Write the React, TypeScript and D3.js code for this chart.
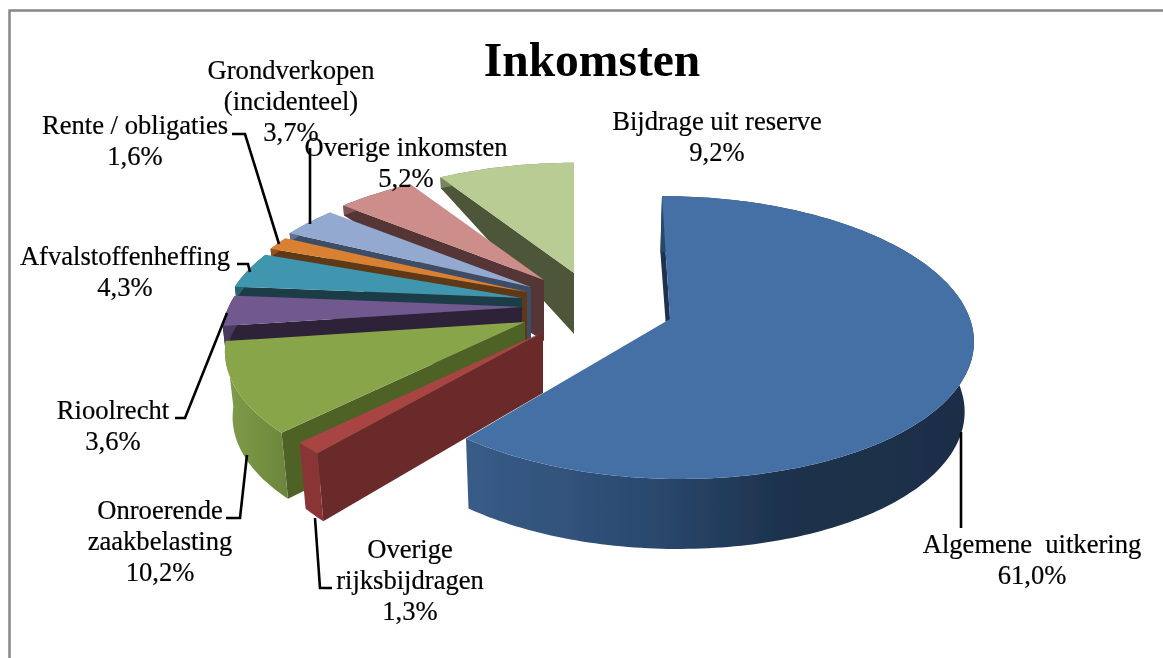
import React from "react";
import * as d3 from "d3";

// ---- data ----
const categories = [
  "Algemene uitkering", "Overige rijksbijdragen", "Onroerende zaakbelasting", "Rioolrecht",
  "Afvalstoffenheffing", "Rente / obligaties", "Grondverkopen (incidenteel)", "Overige inkomsten",
  "Bijdrage uit reserve",
];
const percentages = [61.0, 1.3, 10.2, 3.6, 4.3, 1.6, 3.7, 5.2, 9.2];
const labelLines = [
  ["Algemene  uitkering", "61,0%"],
  ["Overige", "rijksbijdragen", "1,3%"],
  ["Onroerende", "zaakbelasting", "10,2%"],
  ["Rioolrecht", "3,6%"],
  ["Afvalstoffenheffing", "4,3%"],
  ["Rente / obligaties", "1,6%"],
  ["Grondverkopen", "(incidenteel)", "3,7%"],
  ["Overige inkomsten", "5,2%"],
  ["Bijdrage uit reserve", "9,2%"],
];

// ---- styling and layout ----
const topColors = ["#4570a6", "#a84442", "#88a54a", "#71588f", "#3f96af", "#d98030", "#93a9d0", "#cc8d8b", "#b9cc93"];
const edgeColors = ["#1d3350", "#6b2a2b", "#4f6228", "#2e2038", "#1b3d47", "#5e3712", "#3e4d68", "#553636", "#4d5738"];
const rimColors = ["url(#blueRim)", "#8a3636", "url(#greenRim)", "#4a3a5e", "#2a6373", "#8f5320", "#5f7090", "#7f5453", "#788560"];
const apexX = [670, 543, 525, 522, 522, 527, 531, 544, 574];
const apexY = [319, 332, 322, 307, 298, 292, 287, 280, 273];
const rimDepthFrom = [56, 68, 66, 28, 12, 8, 8, 10, 11];
const rimDepthTo = [70, 66, 66, 28, 12, 8, 8, 10, 11];
const APEX_DEPTH = 61;
const VANISH_X = 575;
const LEAN = 0.022;

type Frame = { rx: number; ry: number; k: number; c: number; shear: number };
const explodedFrame: Frame = { rx: 300, ry: 139, k: 0.131, c: 0, shear: 0.065 };
const clusterFrame: Frame = { rx: 292, ry: 132, k: 0.231, c: -3, shear: 0 };

const labelX = [1032, 410, 160, 113, 125, 135, 291, 406, 717];
const labelY = [553, 558, 519, 419, 265, 134, 79, 156, 130];
const LINE_GAP = 31;

const leaders: [number, number][][] = [
  [[961, 432], [961, 528]],
  [[315, 518], [320, 588], [332, 588]],
  [[247, 455], [240, 518], [226, 518]],
  [[227, 313], [185, 418], [175, 418]],
  [[237, 264], [248, 264], [250, 272]],
  [[232, 134], [245, 134], [279, 244]],
  [[310, 148], [310, 224]],
];

const FONT = "'Liberation Serif', 'Times New Roman', serif";

// ---- geometry ----
const pie = d3.pie<number>().sort(null).startAngle(0).endAngle(2 * Math.PI);
const arcs = pie(percentages);
const path = d3.line<[number, number]>();

function rimPoint(i: number, a: number): [number, number] {
  const f = i === 0 ? explodedFrame : clusterFrame;
  const s = 1 / (1 + f.k * Math.cos(a));
  const y = -f.ry * s * Math.cos(a) + f.c;
  const x = f.rx * s * Math.sin(a) + f.shear * y;
  return [apexX[i] + x, apexY[i] + y];
}

function lowered([x, y]: [number, number], d: number): [number, number] {
  return [x + LEAN * (VANISH_X - x) * (d / 66), y + d];
}

function sliceParts(i: number) {
  const { startAngle: a0, endAngle: a1 } = arcs[i];
  const n = Math.max(6, Math.ceil((a1 - a0) / 0.02));
  const sweep = d3.scaleLinear().domain([0, n]).range([a0, a1]);
  const depth = d3.scaleLinear()
    .domain([a0, Math.min(a0 + Math.PI / 2, a1)])
    .range([rimDepthFrom[i], rimDepthTo[i]])
    .clamp(true);
  const angles = d3.range(n + 1).map((j) => sweep(j));
  const rim = angles.map((a) => rimPoint(i, a));
  const rimLow = angles.map((a, j) => lowered(rim[j], depth(a)));
  const apex: [number, number] = [apexX[i], apexY[i]];
  const apexLow: [number, number] = [apexX[i], apexY[i] + APEX_DEPTH];
  return {
    top: path([apex, ...rim]) + "Z",
    rimWall: path([...rim, ...rimLow.slice().reverse()]) + "Z",
    edgeWall: path([apex, rim[0], rimLow[0], apexLow]) + "Z",
  };
}

const paintOrder = [8, 7, 6, 5, 4, 3, 2, 1, 0];

export default function App() {
  return (
    <svg
      width={1163}
      height={658}
      viewBox="0 0 1163 658"
      style={{ position: "fixed", left: 0, top: 0, display: "block", background: "#fff" }}
    >
      <defs>
        <linearGradient id="blueRim" gradientUnits="userSpaceOnUse" x1={467} x2={975} y1={0} y2={0}>
          <stop offset="0" stopColor="#385c88" />
          <stop offset="0.35" stopColor="#2b4a6f" />
          <stop offset="0.62" stopColor="#1d324d" />
          <stop offset="1" stopColor="#1b2e46" />
        </linearGradient>
        <linearGradient id="greenRim" gradientUnits="userSpaceOnUse" x1={225} x2={295} y1={0} y2={0}>
          <stop offset="0" stopColor="#7f9d4a" />
          <stop offset="1" stopColor="#6a823a" />
        </linearGradient>
        <filter id="soft" x="-5%" y="-5%" width="110%" height="110%">
          <feGaussianBlur stdDeviation="0.4" />
        </filter>
      </defs>

      <path d="M9.5 658V10.5H1163" fill="none" stroke="#868686" strokeWidth={2.5} />

      <g filter="url(#soft)">
        {paintOrder.map((i) => {
          const p = sliceParts(i);
          return (
            <g key={categories[i]}>
              <path d={p.edgeWall} fill={edgeColors[i]} />
              <path d={p.rimWall} fill={rimColors[i]} />
              <path d={p.top} fill={topColors[i]} />
            </g>
          );
        })}
        {leaders.map((pts, i) => (
          <path key={i} d={path(pts) ?? ""} fill="none" stroke="#000" strokeWidth={2.6} />
        ))}
        <text x={592} y={76} textAnchor="middle" fontFamily={FONT} fontSize={47.5} fontWeight="bold" fill="#000">
          Inkomsten
        </text>
        {labelLines.map((lines, i) => (
          <text
            key={i}
            textAnchor="middle"
            fontFamily={FONT}
            fontSize={26.6}
            fill="#000"
            stroke="#000"
            strokeWidth={0.2}
            style={{ whiteSpace: "pre" }}
          >
            {lines.map((line, j) => (
              <tspan key={j} x={labelX[i]} y={labelY[i] + j * LINE_GAP}>
                {line}
              </tspan>
            ))}
          </text>
        ))}
      </g>
    </svg>
  );
}
